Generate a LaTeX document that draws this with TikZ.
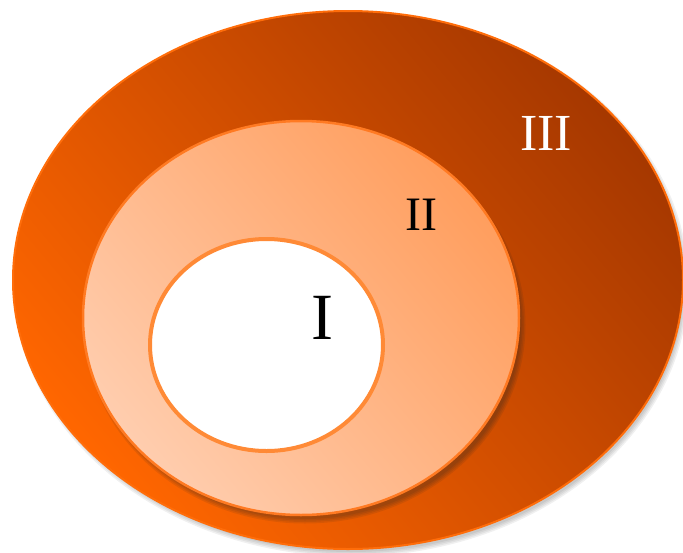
\documentclass[tikz,border=0pt]{standalone}
\usepackage{fontspec}
\setmainfont{Liberation Serif}
\usetikzlibrary{shapes.geometric}
\definecolor{outerA}{HTML}{FF6600}
\definecolor{outerB}{HTML}{A63800}
\definecolor{outerLine}{HTML}{FF6D0A}
\definecolor{midA}{HTML}{FFCDAE}
\definecolor{midB}{HTML}{FF9E5E}
\definecolor{midLine}{HTML}{FF7A22}
\definecolor{innerLine}{HTML}{FF8A36}
\tikzset{
  ring/.style={ellipse, inner sep=0pt, outer sep=0pt},
  lbl/.style={inner sep=0pt, font=\fontsize{48}{50}\selectfont}
}
\begin{document}
\begin{tikzpicture}[x=1pt,y=-1pt]
\useasboundingbox (0,0) rectangle (683,552);
% soft shadow of the outer ellipse
\foreach \d in {0,1.5,3,4.5}{
  \fill[black, opacity=0.06] (351,284) ellipse ({333+\d} and {268+\d});
}
\node[ring, minimum width=670pt, minimum height=538pt, draw=outerLine, line width=2pt,
  top color=outerB, bottom color=outerA, shading angle=-50] (outer) at (348,280) {};
% soft shadow of the middle ellipse
\foreach \d in {0,1.5,3,4.5}{
  \fill[black!85, opacity=0.1] (305,325) ellipse ({216+\d} and {194+\d});
}
\node[ring, minimum width=436pt, minimum height=394pt, draw=midLine, line width=2.5pt,
  top color=midB, bottom color=midA, shading angle=-50] (mid) at (301,318) {};
\node[ring, minimum width=233pt, minimum height=212pt, draw=innerLine, line width=4pt, fill=white] (inner) at (266.5,345) {};
\node[lbl, text=white, font=\fontsize{52}{54}\selectfont] (l3) at (546,133) {III};
\node[lbl] (l2) at (421,215) {II};
\node[lbl, font=\fontsize{66}{68}\selectfont] (l1) at (322,318) {I};
\end{tikzpicture}
\end{document}
